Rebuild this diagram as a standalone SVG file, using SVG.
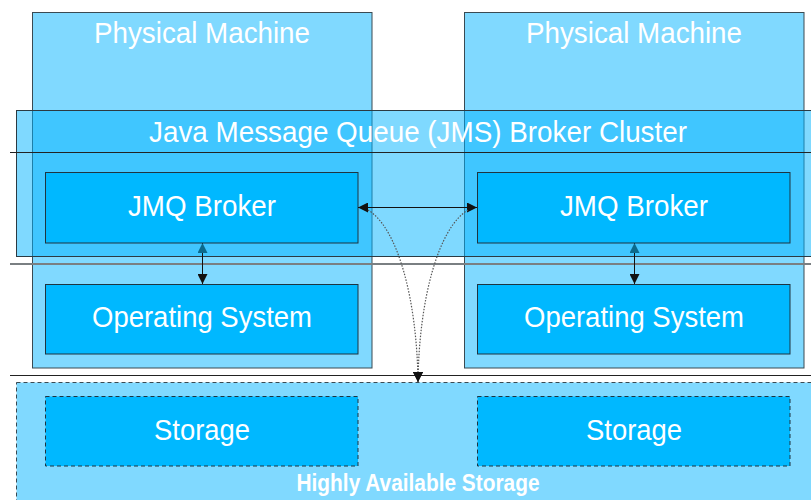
<svg xmlns="http://www.w3.org/2000/svg" width="811" height="500" viewBox="0 0 811 500">
  <defs>
    <style>
      .machine { fill: #80d9ff; stroke: #3a4a52; stroke-width: 1; }
      .cluster { fill: #00b4ff; fill-opacity: 0.5; stroke: #2b3a42; stroke-width: 1; }
      .inner { fill: #00b8ff; stroke: #1f3440; stroke-width: 1; }
      .dashed { stroke-dasharray: 4 3; }
      .pool { fill: #80d9ff; stroke: #3a4a52; stroke-width: 1; stroke-dasharray: 4 3; }
      .label { font-family: "Liberation Sans", Arial, sans-serif; font-size: 30px; fill: #ffffff; text-anchor: middle; }
      .caption { font-family: "Liberation Sans", Arial, sans-serif; font-size: 23px; font-weight: bold; fill: #ffffff; text-anchor: middle; }
      .rule { stroke: #222; stroke-width: 1; fill: none; }
      .rule-gray { stroke: #7a7f82; stroke-width: 2; fill: none; }
      .link { stroke: #111; stroke-width: 1; fill: none; }
      .curve { stroke: #555; stroke-width: 1.2; stroke-dasharray: 1.5 1.5; fill: none; }
    </style>
    <marker id="head" viewBox="0 0 10 10" refX="10" refY="5" markerWidth="10" markerHeight="10" markerUnits="userSpaceOnUse" orient="auto-start-reverse">
      <path d="M0,0 L10,5 L0,10 Z" fill="#111"/>
    </marker>
    <marker id="head-teal" viewBox="0 0 10 10" refX="10" refY="5" markerWidth="10" markerHeight="10" markerUnits="userSpaceOnUse" orient="auto-start-reverse">
      <path d="M0,0 L10,5 L0,10 Z" fill="#0b6a8c"/>
    </marker>
  </defs>

  <rect x="0" y="0" width="811" height="500" fill="#ffffff"/>

  <!-- physical machines -->
  <g id="machine-left">
    <rect class="machine" x="32.5" y="12.5" width="339.5" height="355.5"/>
    <text class="label" x="202" y="43" textLength="216" lengthAdjust="spacingAndGlyphs">Physical Machine</text>
  </g>
  <g id="machine-right">
    <rect class="machine" x="464.5" y="12.5" width="339.5" height="355.5"/>
    <text class="label" x="634" y="43" textLength="216" lengthAdjust="spacingAndGlyphs">Physical Machine</text>
  </g>

  <!-- broker cluster overlay -->
  <g id="cluster">
    <rect class="cluster" x="16.5" y="110.5" width="820" height="146"/>
    <text class="label" x="418" y="142" textLength="538" lengthAdjust="spacingAndGlyphs">Java Message Queue (JMS) Broker Cluster</text>
  </g>

  <!-- horizontal layer rules -->
  <g id="rules">
    <line class="rule" x1="10" y1="152.5" x2="811" y2="152.5"/>
    <line class="rule-gray" x1="10" y1="264" x2="811" y2="264"/>
    <line class="rule" x1="10" y1="375.5" x2="811" y2="375.5"/>
  </g>

  <!-- brokers -->
  <g id="broker-left">
    <rect class="inner" x="45.5" y="172.5" width="312.5" height="70.5"/>
    <text class="label" x="202" y="216" textLength="148" lengthAdjust="spacingAndGlyphs">JMQ Broker</text>
  </g>
  <g id="broker-right">
    <rect class="inner" x="477.5" y="172.5" width="312.5" height="70.5"/>
    <text class="label" x="634" y="216" textLength="148" lengthAdjust="spacingAndGlyphs">JMQ Broker</text>
  </g>

  <!-- operating systems -->
  <g id="os-left">
    <rect class="inner" x="45.5" y="284.5" width="312.5" height="69.5"/>
    <text class="label" x="202" y="327" textLength="220" lengthAdjust="spacingAndGlyphs">Operating System</text>
  </g>
  <g id="os-right">
    <rect class="inner" x="477.5" y="284.5" width="312.5" height="69.5"/>
    <text class="label" x="634" y="327" textLength="220" lengthAdjust="spacingAndGlyphs">Operating System</text>
  </g>

  <!-- shared storage -->
  <g id="storage-pool">
    <rect class="pool" x="16.5" y="382.5" width="820" height="140"/>
    <text class="caption" x="418" y="491" textLength="243" lengthAdjust="spacingAndGlyphs">Highly Available Storage</text>
  </g>
  <g id="storage-left">
    <rect class="inner dashed" x="45.5" y="396.5" width="312.5" height="69.5"/>
    <text class="label" x="202" y="440" textLength="96" lengthAdjust="spacingAndGlyphs">Storage</text>
  </g>
  <g id="storage-right">
    <rect class="inner dashed" x="477.5" y="396.5" width="312.5" height="69.5"/>
    <text class="label" x="634" y="440" textLength="96" lengthAdjust="spacingAndGlyphs">Storage</text>
  </g>

  <!-- connectors -->
  <g id="connectors">
    <line class="link" x1="358" y1="207.5" x2="477" y2="207.5" marker-start="url(#head)" marker-end="url(#head)"/>
    <line class="link" x1="202.5" y1="243" x2="202.5" y2="284" marker-start="url(#head-teal)" marker-end="url(#head)"/>
    <line class="link" x1="634.5" y1="243" x2="634.5" y2="284" marker-start="url(#head-teal)" marker-end="url(#head)"/>
    <path class="curve" d="M368,210 C398,228 417,300 418,382" marker-end="url(#head)"/>
    <path class="curve" d="M468,210 C438,228 419,300 418,382" marker-end="url(#head)"/>
  </g>
</svg>
